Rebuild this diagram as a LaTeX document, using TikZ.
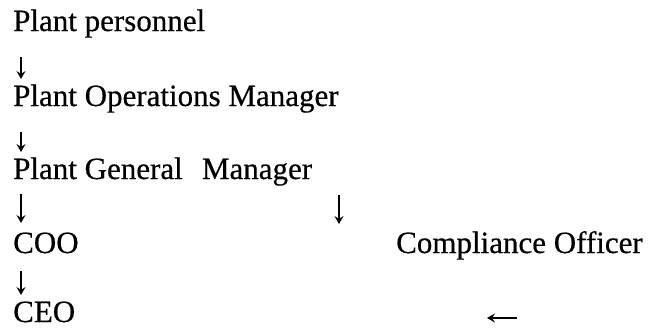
\documentclass[tikz,border=0pt]{standalone}
\usepackage{fontspec}
\setmainfont{Liberation Serif}[FakeBold=0.5]
\usetikzlibrary{arrows.meta,calc}
\tikzset{
  lbl/.style={inner sep=0pt, anchor=base west, font=\rmfamily\fontsize{31pt}{36pt}\selectfont},
  dn/.style={line width=1.3pt, -{Stealth[length=8pt,width=9pt,inset=3pt]}},
}
\begin{document}
\begin{tikzpicture}[x=1pt,y=1pt]
\useasboundingbox (0,0) rectangle (648,-330);
\node[lbl] (pp)  at (13,-31)  {Plant personnel};
\node[lbl] (pom) at (13,-106) {Plant Operations Manager};
\node[lbl] (pgm) at (13,-179) {Plant General\hspace{0.62em}Manager};
\node[lbl] (coo) at (13,-253) {COO};
\node[lbl] (ceo) at (13,-322) {CEO};
\node[lbl] (co)  at (396,-253) {Compliance Officer};
% down arrows
\draw[dn] ($(pp.base west)+(8,-26)$) -- ($(pom.base west)+(8,27)$);
\draw[dn] ($(pom.base west)+(8,-26)$) -- ($(pgm.base west)+(8,27)$);
\draw[dn] ($(pgm.base west)+(8,-15)$) -- ($(coo.base west)+(8,30)$);
\draw[dn] ($(coo.base west)+(8,-18)$) -- ($(ceo.base west)+(8,27)$);
\coordinate (rt) at (339,-195);
\coordinate (rb) at (339,-224);
\draw[dn] (rt) -- (rb);
\coordinate (lt) at (517,-318);
\coordinate (lh) at (487,-318);
\draw[dn] (lt) -- (lh);
\end{tikzpicture}
\end{document}
